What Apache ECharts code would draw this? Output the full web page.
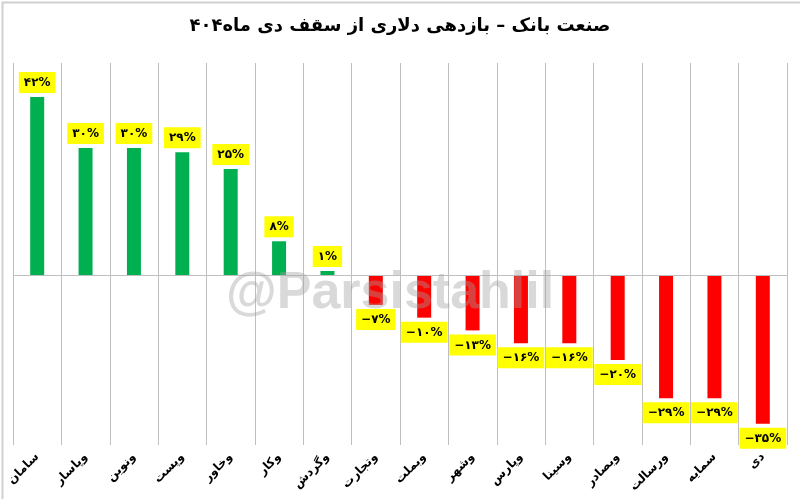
<!DOCTYPE html>
<html>
<head>
<meta charset="utf-8">
<script src="https://cdn.jsdelivr.net/npm/echarts@6/dist/echarts.min.js"></script>
<style>
html,body{margin:0;padding:0;background:#fff;}
#chart{width:800px;height:499px;}
</style>
</head>
<body>
<div id="chart"></div>
<script>
const titleText = 'صنعت بانک – بازدهی دلاری از سقف دی ماه۴۰۴';
const categories = ['سامان','وپاسار','ونوین','وپست','وخاور','وکار','وگردش','وتجارت','وبملت','وشهر','وپارس','وسینا','وبصادر','ورسالت','سمایه','دی'];
const returns = [42,30,30,29,25,8,1,-7,-10,-13,-16,-16,-20,-29,-29,-35];
const watermark = '@Parsistahlil';

const faDigits = ['۰','۱','۲','۳','۴','۵','۶','۷','۸','۹'];
function toFa(v){
  const s = String(Math.abs(v)).replace(/[0-9]/g, d => faDigits[+d]);
  return '\u200e' + (v < 0 ? '−' : '') + s + '%';
}

const seriesData = returns.map(v => ({
  value: v,
  itemStyle: { color: v >= 0 ? '#00b050' : '#ff0000' },
  label: { position: v >= 0 ? 'top' : 'bottom' }
}));

const chart = echarts.init(document.getElementById('chart'), null, {renderer:'canvas'});
chart.setOption({
  animation: false,
  backgroundColor: '#ffffff',
  title: {
    text: titleText,
    left: 'center',
    top: 12,
    textStyle: { fontFamily: 'DejaVu Sans', fontWeight: 'bold', fontSize: 18, color: '#000' }
  },
  grid: { left: 13, right: 13, top: 63, bottom: 54, containLabel: false },
  xAxis: {
    type: 'category',
    data: categories,
    boundaryGap: true,
    axisLine: { show: false, onZero: false },
    axisTick: { show: false },
    splitLine: { show: true, lineStyle: { color: '#bfbfbf', width: 1 } },
    axisLabel: {
      rotate: 45,
      margin: 10,
      interval: 0,
      fontFamily: 'DejaVu Sans',
      fontWeight: 'bold',
      fontSize: 12,
      color: '#000',
      padding: [0, 0, 0, 0]
    }
  },
  yAxis: {
    type: 'value',
    min: -40,
    max: 50,
    interval: 10,
    show: false,
    splitLine: { show: false }
  },
  series: [{
    type: 'bar',
    data: seriesData,
    barWidth: 14,
    label: {
      show: true,
      distance: 4,
      formatter: p => toFa(p.value),
      backgroundColor: '#ffff00',
      padding: [5, 5, 4, 5],
      color: '#000',
      fontFamily: 'DejaVu Sans',
      fontWeight: 'bold',
      fontSize: 12
    },
    markLine: {
      silent: true,
      symbol: 'none',
      label: { show: false },
      lineStyle: { color: '#bfbfbf', type: 'solid', width: 1 },
      data: [{ yAxis: 0 }]
    }
  }],
  graphic: [
    {
      type: 'text',
      left: 226,
      top: 268,
      z: 100,
      style: {
        text: watermark,
        font: 'bold 52px "Liberation Sans", Arial, sans-serif',
        fill: 'rgba(160,160,160,0.4)'
      }
    },
    {
      type: 'rect',
      left: 0, top: 0, z: 100,
      shape: { x: 0, y: 0, width: 799, height: 498 },
      style: { fill: 'none', stroke: '#d0d0d0', lineWidth: 2 }
    }
  ]
});
</script>
</body>
</html>
